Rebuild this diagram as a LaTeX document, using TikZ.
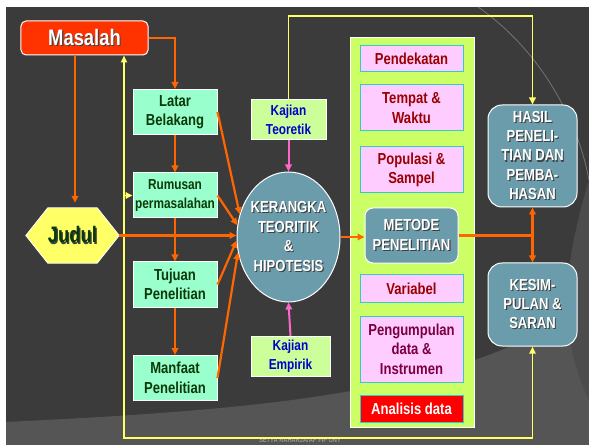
\documentclass[tikz,border=0pt]{standalone}
\usepackage{fontspec}
\setmainfont{Liberation Sans}[FakeStretch=0.82]
\usetikzlibrary{shapes.geometric,arrows.meta,calc}
\definecolor{bgdark}{HTML}{3B3B3B}
\definecolor{bglight}{HTML}{555555}
\definecolor{redc}{HTML}{FF3300}
\definecolor{mintc}{HTML}{99FFCC}
\definecolor{limec}{HTML}{CCFF66}
\definecolor{kajc}{HTML}{CCFF99}
\definecolor{pinkc}{HTML}{FFCCFF}
\definecolor{cyanc}{HTML}{33CCCC}
\definecolor{steelc}{HTML}{6B9CAC}
\definecolor{greentxt}{HTML}{0A3A0A}
\definecolor{maroontxt}{HTML}{990000}
\definecolor{purptxt}{HTML}{7A0040}
\definecolor{bluetxt}{HTML}{0000CC}
\definecolor{orangec}{HTML}{FF6600}
\definecolor{yellowc}{HTML}{FFFF66}
\definecolor{pinkarr}{HTML}{FF66CC}
\definecolor{judulc}{HTML}{FFFF66}
\newcommand\shd[1]{\leavevmode\rlap{\kern1.1bp\raisebox{-1.1bp}{\color{black!75}#1}}#1}
\tikzset{
  basefont/.style={align=center, inner sep=0pt, font=\bfseries\fontsize{16}{19.5}\selectfont},
  mintbox/.style={basefont, fill=mintc, draw=white, line width=1bp, text=greentxt,
    minimum width=84bp, minimum height=45bp},
  kajbox/.style={basefont, fill=kajc, draw=white, line width=1bp, text=bluetxt,
    minimum width=75bp, minimum height=40bp, font=\bfseries\fontsize{14.5}{19}\selectfont},
  pinkbox/.style={basefont, fill=pinkc, draw=cyanc, line width=1bp, text=maroontxt,
    minimum width=103bp},
  steelbox/.style={basefont, fill=steelc, draw=white, line width=1bp, text=white},
  tip/.style={-{Triangle[length=7bp,width=6.5bp]}},
  oarr/.style={draw=orangec, line width=2.2bp, tip},
  yarr/.style={draw=yellowc, line width=1.8bp, tip},
  parr/.style={draw=pinkarr, line width=2bp, tip},
}
\begin{document}
\begin{tikzpicture}[x=1bp,y=-1bp]
\useasboundingbox (0,0) rectangle (589,445);
\fill[white] (0,0) rectangle (589,445);
% slide background
\fill[bgdark] (6,7) rectangle (589,445);
\fill[bglight] (6,445) -- (6,422) .. controls (250,410) and (470,395) .. (589,300) -- (589,445) -- cycle;
\draw[black!55, line width=0.8bp] (478,7) .. controls (540,50) and (578,120) .. (589,180);
\fill[black!70] (589,180) .. controls (565,260) and (555,330) .. (589,400) -- cycle;
\node[font=\bfseries\fontsize{7}{8}\selectfont, text=black!40] (footer) at (300,440) {SETYA RAHARJA/AP FIP UNY};

% coordinates for free line ends
\coordinate (mx) at (75,0);
\coordinate (lx) at (124,0);
\coordinate (by) at (0,438);
\coordinate (ty) at (0,16);

% left column
\node[basefont, fill=redc, draw=white, line width=1bp, rounded corners=5bp,
  minimum width=127bp, minimum height=34bp, text=white,
  font=\bfseries\fontsize{22.5}{24}\selectfont] (masalah) at (84.5,38) {\shd{Masalah}};
\node[minimum width=93bp, minimum height=55bp, inner sep=0pt] (judul) at (72.5,235.5) {};
\fill[judulc, draw=white, line width=0.8bp] (judul.west) -- ($(judul.north west)+(22,0)$)
  -- ($(judul.north east)+(-22,0)$) -- (judul.east) -- ($(judul.south east)+(-22,0)$)
  -- ($(judul.south west)+(22,0)$) -- cycle;
\node[basefont, text=greentxt, font=\bfseries\fontsize{22.5}{24}\selectfont] (judultxt) at (judul.center) {\shd{Judul}};

\node[mintbox] (latar) at (175,112) {Latar\\Belakang};
\node[mintbox, font=\bfseries\fontsize{14.5}{19}\selectfont] (rumusan) at (175,195.5) {Rumusan\\permasalahan};
\node[mintbox] (tujuan) at (175,284.5) {Tujuan\\Penelitian};
\node[mintbox] (manfaat) at (175,378) {Manfaat\\Penelitian};

% middle
\node[kajbox] (kt) at (288.5,119.5) {Kajian\\Teoretik};
\node[kajbox, minimum width=79bp] (ke) at (290.5,356.5) {Kajian\\Empirik};
\node[ellipse, steelbox, inner xsep=-3bp, minimum width=103bp, minimum height=130bp] (ker) at (288.5,237)
  {\shd{KERANGKA}\\\shd{TEORITIK}\\\shd{\&}\\\shd{HIPOTESIS}};

% method panel
\node[fill=limec, draw=white, line width=1bp, minimum width=124bp, minimum height=389bp] (panel) at (412,232.5) {};
\node[pinkbox, minimum height=26bp] (pend) at (411.5,59) {Pendekatan};
\node[pinkbox, minimum height=46bp] (tempat) at (411.5,108) {Tempat \&\\Waktu};
\node[pinkbox, minimum height=46bp] (pop) at (411.5,170) {Populasi \&\\Sampel};
\node[steelbox, rounded corners=8bp, minimum width=93bp, minimum height=55bp] (metode) at (411.5,235.5)
  {\shd{METODE}\\\shd{PENELITIAN}};
\node[pinkbox, minimum height=27bp] (var) at (411.5,288.5) {Variabel};
\node[pinkbox, minimum height=66bp, text=purptxt] (kumpul) at (411.5,349) {Pengumpulan\\data \&\\Instrumen};
\node[pinkbox, minimum height=27bp, fill=red, text=white] (anal) at (411.5,408.5) {Analisis data};

% right column
\node[steelbox, rounded corners=14bp, minimum width=89bp, minimum height=102bp] (hasil) at (532.5,156)
  {\shd{HASIL}\\\shd{PENELI-}\\\shd{TIAN DAN}\\\shd{PEMBA-}\\\shd{HASAN}};
\node[steelbox, rounded corners=14bp, minimum width=89bp, minimum height=83bp] (kes) at (532.5,304.5)
  {\shd{KESIM-}\\\shd{PULAN \&}\\\shd{SARAN}};
\coordinate (junc) at (hasil.south |- metode.east);

% yellow feedback lines
\draw[yarr] (kt.north) -- (kt.north |- ty) -| (hasil.north);
\draw[yarr, {Triangle[length=7bp,width=6bp]}-{Triangle[length=7bp,width=6bp]}]
  (kes.south) -- (kes.south |- by) -| (masalah.south -| lx);
\draw[yarr] (lx |- rumusan.west) -- (rumusan.west);

% orange flow
\draw[oarr] (masalah.east) -| (latar.north);
\draw[oarr, shorten >=5bp] (masalah.south -| mx) -- (mx |- judul.north);
\draw[oarr] (latar.south) -- (rumusan.north);
\draw[oarr] (rumusan.south) -- (tujuan.north);
\draw[oarr] (tujuan.south) -- (manfaat.north);
\draw[oarr] (latar.east) -- (ker.155);
\draw[oarr] (rumusan.east) -- (ker.167);
\draw[oarr] (judul.east) -- (judul.east -| ker.west);
\draw[oarr] (tujuan.east) -- (ker.184);
\draw[oarr] (manfaat.east) -- (ker.197);
\draw[oarr] (ker.east) -- (ker.east -| metode.west);
\draw[draw=orangec, line width=2.2bp] (metode.east) -- (junc);
\draw[oarr] (junc) -- (hasil.south);
\draw[oarr] (junc) -- (kes.north);

% pink
\draw[parr] (kt.south) -- (ker.north);
\draw[parr] (ke.north) -- (ker.south);
\end{tikzpicture}
\end{document}
